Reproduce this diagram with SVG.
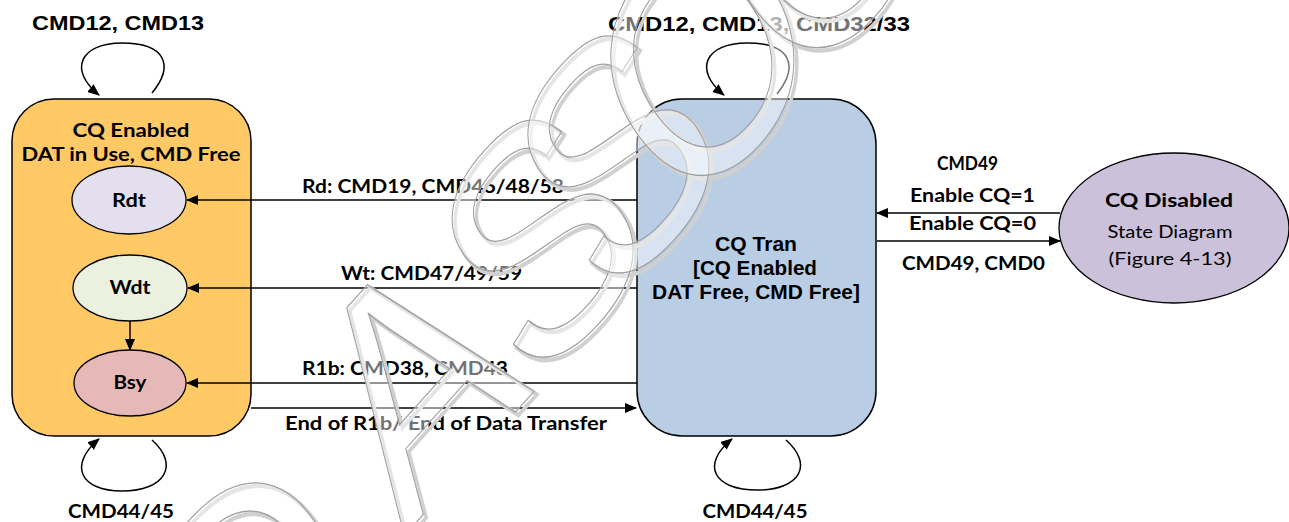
<svg xmlns="http://www.w3.org/2000/svg" width="1289" height="522" viewBox="0 0 1289 522">
<defs>
<marker id="ah" markerWidth="12" markerHeight="10" refX="11" refY="5" orient="auto" markerUnits="userSpaceOnUse">
<path d="M0,0 L12,5 L0,10 Z" fill="#000"/>
</marker>
<style>
.box{stroke:#000;stroke-width:1.5}
.ell{stroke:#000;stroke-width:1.3}
.con{fill:none;stroke:#000;stroke-width:1.5}
.c{font-family:Lato,"Open Sans","DejaVu Sans",sans-serif;font-weight:bold;font-size:18px;fill:#000}
.cr{font-family:Lato,"Open Sans","DejaVu Sans",sans-serif;font-weight:normal;font-size:18px;fill:#000}
.a{font-family:"Liberation Sans",Arial,sans-serif;font-weight:bold;font-size:20px;fill:#000}
.wm{font-family:"Liberation Sans",Arial,sans-serif;font-size:340px;letter-spacing:-65px}
</style>
</defs>
<rect width="1289" height="522" fill="#fff"/>

<g id="node-cq-enabled-dat">
<rect class="box" x="12" y="99" width="239" height="337" rx="42" fill="#FFC965"/>
<text class="c" x="131" y="137" text-anchor="middle" textLength="117" lengthAdjust="spacingAndGlyphs">CQ Enabled</text>
<text class="c" x="131" y="161" text-anchor="middle" textLength="219" lengthAdjust="spacingAndGlyphs">DAT in Use, CMD Free</text>
</g>
<g id="node-rdt">
<ellipse class="ell" cx="129" cy="200" rx="57" ry="34" fill="#E4DFEC"/>
<text class="c" x="129" y="207" text-anchor="middle" textLength="34" lengthAdjust="spacingAndGlyphs">Rdt</text>
</g>
<g id="node-wdt">
<ellipse class="ell" cx="130" cy="288" rx="57" ry="33" fill="#EBF1DE"/>
<text class="c" x="130" y="294" text-anchor="middle" textLength="41" lengthAdjust="spacingAndGlyphs">Wdt</text>
</g>
<g id="node-bsy">
<ellipse class="ell" cx="130" cy="383" rx="56" ry="33" fill="#E6B9B8"/>
<text class="c" x="130" y="389" text-anchor="middle" textLength="33" lengthAdjust="spacingAndGlyphs">Bsy</text>
</g>
<g id="node-cq-tran">
<rect class="box" x="637" y="99" width="239" height="337" rx="45" fill="#B9CDE5"/>
<text class="a" x="756" y="251" text-anchor="middle" textLength="82" lengthAdjust="spacingAndGlyphs">CQ Tran</text>
<text class="a" x="755" y="275" text-anchor="middle" textLength="124" lengthAdjust="spacingAndGlyphs">[CQ Enabled</text>
<text class="a" x="756" y="299" text-anchor="middle" textLength="208" lengthAdjust="spacingAndGlyphs">DAT Free, CMD Free]</text>
</g>
<g id="node-cq-disabled">
<ellipse class="ell" cx="1174" cy="228" rx="115" ry="75" fill="#CCC1DA"/>
<text class="c" x="1169" y="207" text-anchor="middle" textLength="128" lengthAdjust="spacingAndGlyphs">CQ Disabled</text>
<text class="cr" x="1170" y="238" text-anchor="middle" textLength="125" lengthAdjust="spacingAndGlyphs">State Diagram</text>
<text class="cr" x="1170" y="265" text-anchor="middle" textLength="123" lengthAdjust="spacingAndGlyphs">(Figure 4-13)</text>
</g>

<g id="connectors">
<path class="con" d="M152,93 C175,65 165,43 122,43 C80,43 68,70 99,95" marker-end="url(#ah)"/>
<path class="con" d="M152,440 C180,465 165,491 122,491 C80,491 68,465 99,439" marker-end="url(#ah)"/>
<path class="con" d="M777,94 C800,65 790,43 747,43 C705,43 693,70 724,95" marker-end="url(#ah)"/>
<path class="con" d="M786,440 C814,465 800,490 757,490 C714,490 700,465 732,439" marker-end="url(#ah)"/>
<line class="con" x1="637" y1="200" x2="187" y2="200" marker-end="url(#ah)"/>
<line class="con" x1="637" y1="288" x2="188" y2="288" marker-end="url(#ah)"/>
<line class="con" x1="637" y1="383" x2="187" y2="383" marker-end="url(#ah)"/>
<line class="con" x1="251" y1="408" x2="636" y2="408" marker-end="url(#ah)"/>
<line class="con" x1="130" y1="321" x2="130" y2="350" marker-end="url(#ah)"/>
<line class="con" x1="1060" y1="213" x2="877" y2="213" marker-end="url(#ah)"/>
<line class="con" x1="877" y1="241" x2="1060" y2="241" marker-end="url(#ah)"/>
</g>

<g id="labels">
<text class="a" x="118" y="30" text-anchor="middle" font-size="22" textLength="172" lengthAdjust="spacingAndGlyphs">CMD12, CMD13</text>
<text class="a" x="759" y="31" text-anchor="middle" font-size="22" textLength="302" lengthAdjust="spacingAndGlyphs">CMD12, CMD13, CMD32/33</text>
<text class="c" x="121" y="518" text-anchor="middle" textLength="106" lengthAdjust="spacingAndGlyphs">CMD44/45</text>
<text class="c" x="755" y="518" text-anchor="middle" textLength="105" lengthAdjust="spacingAndGlyphs">CMD44/45</text>
<text class="c" x="302" y="193" textLength="262" lengthAdjust="spacingAndGlyphs">Rd: CMD19, CMD46/48/58</text>
<text class="c" x="341" y="280" textLength="181" lengthAdjust="spacingAndGlyphs">Wt: CMD47/49/59</text>
<text class="c" x="302" y="375" textLength="206" lengthAdjust="spacingAndGlyphs">R1b: CMD38, CMD43</text>
<text class="c" x="285" y="430" textLength="322" lengthAdjust="spacingAndGlyphs">End of R1b/ End of Data Transfer</text>
<text class="c" x="937" y="170" textLength="61" lengthAdjust="spacingAndGlyphs">CMD49</text>
<text class="c" x="910" y="202" textLength="125" lengthAdjust="spacingAndGlyphs">Enable CQ=1</text>
<text class="c" x="909" y="230" textLength="127" lengthAdjust="spacingAndGlyphs">Enable CQ=0</text>
<text class="c" x="902" y="270" textLength="143" lengthAdjust="spacingAndGlyphs">CMD49, CMD0</text>
</g>

<g id="watermark">
<g transform="translate(407 539) matrix(0.575 -0.639 0.481 0.713 0 0)" fill="none" stroke="#d0d0d0" stroke-width="4.5">
<text class="wm" x="-470" y="30">SD</text>
<text class="wm" x="0" y="0" dx="0 60 -30 -30">ASSOCIATION</text>
</g>
<g transform="translate(404 536) matrix(0.575 -0.639 0.481 0.713 0 0)" fill="#fff" fill-opacity="0.45" stroke="#a0a0a0" stroke-width="1.4">
<text class="wm" x="-470" y="30">SD</text>
<text class="wm" x="0" y="0" dx="0 60 -30 -30">ASSOCIATION</text>
</g>
</g>
</svg>
